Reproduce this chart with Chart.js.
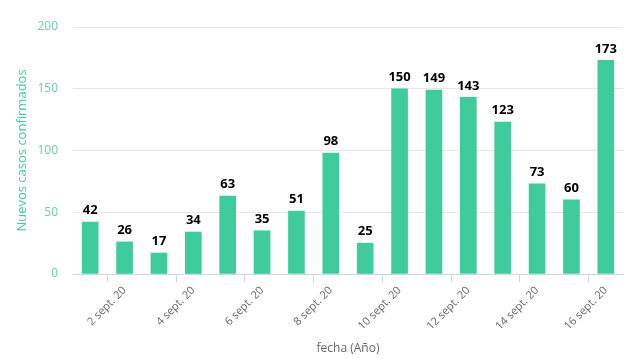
<!DOCTYPE html>
<html>
<head>
<meta charset="utf-8">
<script src="https://cdn.jsdelivr.net/npm/chart.js@4/dist/chart.umd.min.js"></script>
<style>
  html, body { margin: 0; padding: 0; background: #fff; }
  #wrap { width: 642px; height: 359px; }
</style>
</head>
<body>
<div id="wrap"><canvas id="chart" width="642" height="359"></canvas></div>
<script>
// Data
const dias = ['1 sept. 20', '2 sept. 20', '3 sept. 20', '4 sept. 20', '5 sept. 20', '6 sept. 20',
  '7 sept. 20', '8 sept. 20', '9 sept. 20', '10 sept. 20', '11 sept. 20', '12 sept. 20',
  '13 sept. 20', '14 sept. 20', '15 sept. 20', '16 sept. 20'];
const casos = [42, 26, 17, 34, 63, 35, 51, 98, 25, 150, 149, 143, 123, 73, 60, 173];
const yTicks = [0, 50, 100, 150, 200];

const verde = '#3fcc9c';

// Draw the value above each bar
const etiquetas = {
  id: 'etiquetas',
  afterDatasetsDraw(chart) {
    const ctx = chart.ctx;
    const meta = chart.getDatasetMeta(0);
    ctx.save();
    ctx.font = 'bold 13px "Open Sans", sans-serif';
    ctx.textAlign = 'center';
    ctx.textBaseline = 'bottom';
    ctx.lineJoin = 'round';
    meta.data.forEach((bar, i) => {
      const txt = String(casos[i]);
      ctx.strokeStyle = '#fff';
      ctx.lineWidth = 2;
      ctx.strokeText(txt, bar.x, bar.y - 5);
      ctx.fillStyle = '#000';
      ctx.fillText(txt, bar.x, bar.y - 5);
    });
    ctx.restore();
  }
};

new Chart(document.getElementById('chart'), {
  type: 'bar',
  data: {
    labels: dias,
    datasets: [{
      data: casos,
      backgroundColor: verde,
      barThickness: 16
    }]
  },
  options: {
    responsive: false,
    animation: false,
    layout: { padding: { top: 27, right: 19, left: 0, bottom: 0 } },
    plugins: {
      legend: { display: false },
      tooltip: { enabled: false }
    },
    scales: {
      x: {
        afterFit: scale => { scale.height = 85; },
        grid: {
          drawOnChartArea: false,
          drawTicks: true,
          tickLength: 8,
          color: ctx => (ctx.index % 2 === 1 ? '#ccd6eb' : 'rgba(0,0,0,0)')
        },
        border: { display: true, color: '#ccd6eb' },
        ticks: {
          autoSkip: false,
          maxRotation: 45,
          minRotation: 45,
          padding: 2,
          color: '#666',
          font: { family: '"Open Sans", sans-serif', size: 11 },
          callback: (v, i) => (i % 2 === 1 ? dias[i] : '')
        },
        title: {
          display: true,
          text: 'fecha (Año)',
          color: '#666',
          font: { family: '"Open Sans", sans-serif', size: 12 },
          padding: { top: 0, bottom: 3 }
        }
      },
      y: {
        min: 0,
        max: 200,
        afterFit: scale => { scale.width = 73; },
        afterBuildTicks: scale => { scale.ticks = yTicks.map(v => ({ value: v })); },
        grid: { color: '#e6e6e6', drawTicks: false },
        border: { display: false },
        ticks: {
          padding: 15,
          color: '#6fcaa8',
          font: { family: '"Open Sans", sans-serif', size: 12 }
        },
        title: {
          display: true,
          text: 'Nuevos casos confirmados',
          color: verde,
          font: { family: '"Open Sans", sans-serif', size: 13 },
          padding: { top: 14, bottom: 0 }
        }
      }
    }
  },
  plugins: [etiquetas]
});
</script>
</body>
</html>
